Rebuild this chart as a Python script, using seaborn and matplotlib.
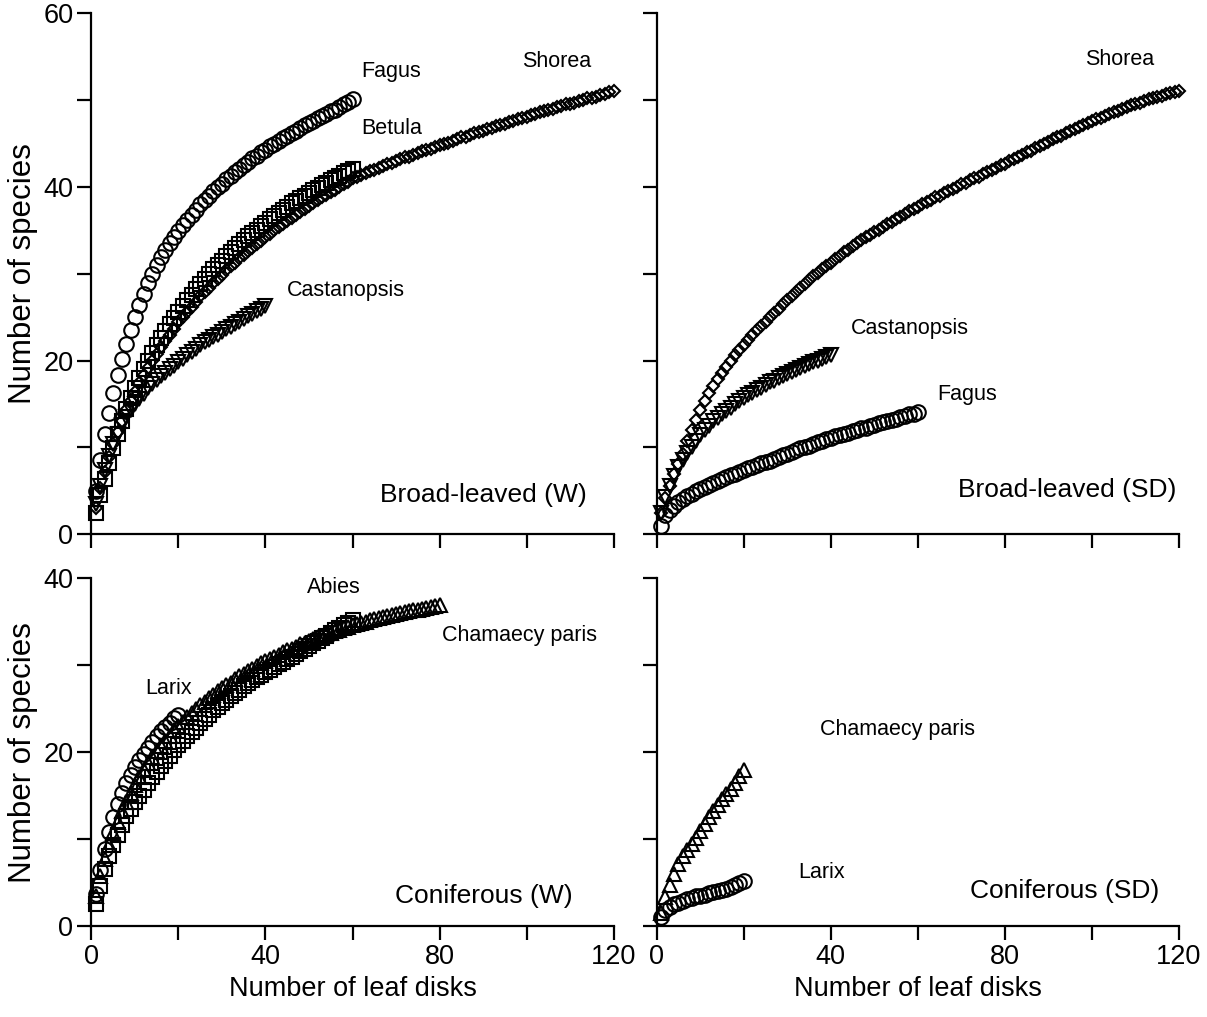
import matplotlib
matplotlib.use("Agg")
import matplotlib.pyplot as plt
import seaborn as sns
import numpy as np
import pandas as pd
from matplotlib.ticker import MultipleLocator

sns.set_theme(style="white")
plt.rcParams['font.family'] = ['Liberation Sans', 'DejaVu Sans']
plt.rcParams['text.color'] = 'black'
plt.rcParams['axes.labelcolor'] = 'black'
plt.rcParams['xtick.color'] = 'black'
plt.rcParams['ytick.color'] = 'black'

# ---------------- data (species accumulation, y value for disk 1..N) -------------
fagus_w = [5.0, 8.6, 11.5, 14.0, 16.3, 18.4, 20.2, 21.9, 23.5, 25.0,
           26.4, 27.7, 28.9, 30.0, 31.0, 31.9, 32.7, 33.5, 34.2, 34.9,
           35.6, 36.2, 36.8, 37.4, 38.0, 38.5, 39.0, 39.5, 40.0, 40.4,
           40.9, 41.3, 41.7, 42.1, 42.5, 42.9, 43.3, 43.6, 44.0, 44.3,
           44.7, 45.0, 45.3, 45.6, 45.9, 46.2, 46.5, 46.8, 47.1, 47.4,
           47.6, 47.9, 48.2, 48.4, 48.7, 48.9, 49.2, 49.5, 49.8, 50.1]
betula_w = [2.5, 4.5, 6.4, 8.2, 9.9, 11.5, 13.0, 14.4, 15.7, 16.9,
            18.0, 19.0, 20.0, 20.9, 21.8, 22.6, 23.4, 24.2, 24.9, 25.6,
            26.3, 27.0, 27.6, 28.2, 28.8, 29.4, 30.0, 30.5, 31.0, 31.5,
            32.0, 32.5, 33.0, 33.4, 33.9, 34.3, 34.7, 35.1, 35.5, 35.9,
            36.3, 36.7, 37.0, 37.4, 37.7, 38.1, 38.4, 38.7, 39.0, 39.3,
            39.6, 39.9, 40.2, 40.5, 40.8, 41.0, 41.3, 41.6, 41.8, 42.1]
shorea_w = [3.0, 5.3, 7.2, 8.9, 10.4, 11.8, 13.1, 14.3, 15.4, 16.4,
            17.4, 18.3, 19.2, 20.0, 20.8, 21.6, 22.3, 23.0, 23.7, 24.4,
            25.0, 25.6, 26.2, 26.8, 27.4, 27.9, 28.4, 28.9, 29.4, 29.9,
            30.4, 30.9, 31.3, 31.8, 32.2, 32.6, 33.0, 33.4, 33.8, 34.2,
            34.6, 35.0, 35.4, 35.7, 36.1, 36.4, 36.8, 37.1, 37.5, 37.8,
            38.1, 38.5, 38.8, 39.1, 39.4, 39.7, 40.0, 40.3, 40.6, 41.0,
            41.2, 41.4, 41.6, 41.8, 42.0, 42.2, 42.4, 42.6, 42.8, 43.0,
            43.2, 43.4, 43.5, 43.7, 43.9, 44.1, 44.3, 44.4, 44.6, 44.8,
            45.0, 45.1, 45.3, 45.5, 45.7, 45.8, 46.0, 46.2, 46.3, 46.5,
            46.7, 46.8, 47.0, 47.1, 47.3, 47.5, 47.6, 47.8, 47.9, 48.1,
            48.3, 48.4, 48.6, 48.7, 48.9, 49.0, 49.2, 49.3, 49.5, 49.6,
            49.7, 49.9, 50.0, 50.2, 50.3, 50.4, 50.6, 50.7, 50.9, 51.0]
castanopsis_w = [3.5, 5.6, 7.4, 9.0, 10.4, 11.6, 12.6, 13.5, 14.3, 15.0,
                 15.6, 16.2, 16.8, 17.3, 17.8, 18.2, 18.6, 19.0, 19.4, 19.8,
                 20.2, 20.6, 21.0, 21.4, 21.8, 22.1, 22.4, 22.7, 23.0, 23.3,
                 23.6, 23.9, 24.2, 24.5, 24.8, 25.1, 25.4, 25.7, 26.0, 26.3]

shorea_sd = [2.5, 4.2, 5.6, 6.9, 8.1, 9.3, 10.7, 12.0, 13.2, 14.3,
             15.4, 16.3, 17.1, 17.9, 18.6, 19.3, 20.0, 20.6, 21.2, 21.8,
             22.4, 23.0, 23.5, 24.0, 24.5, 25.0, 25.5, 26.0, 26.5, 27.0,
             27.5, 27.9, 28.4, 28.8, 29.3, 29.7, 30.1, 30.5, 30.9, 31.3,
             31.7, 32.1, 32.5, 32.8, 33.2, 33.5, 33.9, 34.2, 34.5, 34.8,
             35.1, 35.4, 35.7, 36.0, 36.3, 36.6, 36.9, 37.2, 37.5, 37.7,
             38.0, 38.3, 38.5, 38.8, 39.0, 39.3, 39.5, 39.8, 40.0, 40.3,
             40.5, 40.8, 41.0, 41.2, 41.5, 41.7, 42.0, 42.2, 42.5, 42.7,
             43.0, 43.2, 43.5, 43.7, 44.0, 44.2, 44.5, 44.7, 45.0, 45.2,
             45.5, 45.7, 45.9, 46.2, 46.4, 46.7, 46.9, 47.1, 47.4, 47.6,
             47.8, 48.0, 48.2, 48.4, 48.6, 48.8, 49.0, 49.2, 49.4, 49.6,
             49.7, 49.9, 50.1, 50.2, 50.4, 50.5, 50.7, 50.8, 50.9, 51.1]
castanopsis_sd = [2.5, 4.3, 5.6, 6.7, 7.7, 8.6, 9.4, 10.1, 10.8, 11.4,
                  12.0, 12.5, 13.0, 13.4, 13.8, 14.2, 14.6, 15.0, 15.3, 15.7,
                  16.0, 16.3, 16.6, 16.9, 17.2, 17.5, 17.7, 18.0, 18.2, 18.5,
                  18.7, 18.9, 19.1, 19.4, 19.6, 19.8, 20.0, 20.2, 20.4, 20.6]
fagus_sd = [1.0, 2.2, 2.8, 3.3, 3.7, 4.1, 4.4, 4.7, 5.0, 5.2,
            5.5, 5.7, 5.9, 6.1, 6.4, 6.6, 6.8, 7.0, 7.2, 7.4,
            7.6, 7.8, 8.0, 8.2, 8.3, 8.5, 8.7, 8.9, 9.1, 9.3,
            9.5, 9.7, 9.9, 10.0, 10.2, 10.4, 10.6, 10.8, 11.0, 11.1,
            11.3, 11.4, 11.6, 11.7, 11.9, 12.0, 12.2, 12.3, 12.5, 12.6,
            12.8, 12.9, 13.0, 13.2, 13.3, 13.5, 13.6, 13.8, 13.9, 14.1]

larix_w = [3.7, 6.4, 8.8, 10.8, 12.5, 14.0, 15.3, 16.4, 17.4, 18.3,
           19.1, 19.8, 20.5, 21.2, 21.8, 22.4, 22.9, 23.4, 23.9, 24.3]
abies_w = [2.5, 4.6, 6.6, 8.1, 9.3, 10.5, 11.6, 12.6, 13.5, 14.3,
           15.0, 15.7, 16.4, 17.1, 17.7, 18.4, 19.0, 19.6, 20.2, 20.8,
           21.3, 21.8, 22.3, 22.8, 23.3, 23.8, 24.3, 24.8, 25.2, 25.6,
           26.0, 26.4, 26.8, 27.2, 27.6, 28.0, 28.3, 28.6, 28.9, 29.2,
           29.5, 29.8, 30.1, 30.4, 30.7, 31.0, 31.3, 31.6, 31.9, 32.2,
           32.5, 32.8, 33.1, 33.4, 33.7, 34.0, 34.3, 34.6, 34.9, 35.2]
chamaecyparis_w = [3.5, 5.8, 7.7, 9.3, 10.7, 12.0, 13.2, 14.3, 15.3, 16.2,
                   17.1, 17.9, 18.7, 19.4, 20.1, 20.7, 21.3, 21.9, 22.5, 23.0,
                   23.5, 24.0, 24.5, 25.0, 25.4, 25.8, 26.2, 26.6, 27.0, 27.4,
                   27.7, 28.0, 28.4, 28.7, 29.0, 29.3, 29.6, 29.9, 30.2, 30.5,
                   30.7, 31.0, 31.2, 31.5, 31.7, 31.9, 32.1, 32.4, 32.6, 32.8,
                   33.0, 33.2, 33.4, 33.6, 33.7, 33.9, 34.1, 34.3, 34.4, 34.6,
                   34.7, 34.9, 35.0, 35.2, 35.3, 35.4, 35.6, 35.7, 35.8, 35.9,
                   36.0, 36.1, 36.2, 36.3, 36.4, 36.5, 36.6, 36.7, 36.8, 36.9]
chamaecyparis_sd = [1.5, 3.3, 4.7, 6.0, 7.1, 8.0, 8.7, 9.4, 10.1, 10.9,
                    11.7, 12.5, 13.2, 13.9, 14.6, 15.2, 15.8, 16.5, 17.3, 18.0]
larix_sd = [1.0, 1.8, 2.2, 2.5, 2.7, 2.9, 3.1, 3.2, 3.4, 3.5,
            3.6, 3.8, 3.9, 4.0, 4.1, 4.3, 4.5, 4.7, 4.9, 5.2]

panel_titles = ["Broad-leaved (W)", "Broad-leaved (SD)", "Coniferous (W)", "Coniferous (SD)"]
x_ticks = [0, 40, 80, 120]
y_ticks_top = [0, 20, 40, 60]
y_ticks_bottom = [0, 20, 40]
x_label = "Number of leaf disks"
y_label = "Number of species"

# ---------------- figure ----------------
fig = plt.figure(figsize=(12.07, 10.17), dpi=100)
ax_tl = fig.add_axes([0.0758, 0.4746, 0.4325, 0.5123])
ax_tr = fig.add_axes([0.5441, 0.4746, 0.4327, 0.5123])
ax_bl = fig.add_axes([0.0758, 0.0895, 0.4325, 0.3419])
ax_br = fig.add_axes([0.5441, 0.0895, 0.4327, 0.3419])

MARK = {
    'o': dict(marker='o', markersize=10.5),
    's': dict(marker='s', markersize=9.5),
    'D': dict(marker='D', markersize=6.6),
    'v': dict(marker='v', markersize=9.5),
    '^': dict(marker='^', markersize=9.5),
}


def draw(ax, ys, m):
    xs = np.arange(1, len(ys) + 1)
    df = pd.DataFrame({"x": xs, "y": ys})
    sns.lineplot(data=df, x="x", y="y", ax=ax, linestyle='', color='black',
                 markerfacecolor='none', markeredgecolor='black',
                 markeredgewidth=1.5, clip_on=False, **MARK[m])


draw(ax_tl, shorea_w, 'D')
draw(ax_tl, betula_w, 's')
draw(ax_tl, castanopsis_w, 'v')
draw(ax_tl, fagus_w, 'o')

draw(ax_tr, shorea_sd, 'D')
draw(ax_tr, castanopsis_sd, 'v')
draw(ax_tr, fagus_sd, 'o')

draw(ax_bl, chamaecyparis_w, '^')
draw(ax_bl, abies_w, 's')
draw(ax_bl, larix_w, 'o')

draw(ax_br, chamaecyparis_sd, '^')
draw(ax_br, larix_sd, 'o')

for ax, ymax, yt in [(ax_tl, 60, y_ticks_top), (ax_tr, 60, y_ticks_top),
                     (ax_bl, 40, y_ticks_bottom), (ax_br, 40, y_ticks_bottom)]:
    ax.set_xlim(0, 120)
    ax.set_ylim(0, ymax)
    ax.set_xticks(x_ticks)
    ax.set_yticks(yt)
    ax.xaxis.set_minor_locator(MultipleLocator(20))
    ax.yaxis.set_minor_locator(MultipleLocator(10))
    for s in ['top', 'right']:
        ax.spines[s].set_visible(False)
    for s in ['left', 'bottom']:
        ax.spines[s].set_linewidth(1.6)
        ax.spines[s].set_color('black')
    ax.tick_params(which='both', direction='out', length=10, width=1.6,
                   color='black', labelcolor='black', labelsize=19.5, pad=3,
                   bottom=True, left=True)
    ax.set_xlabel("")
    ax.set_ylabel("")
    ax.patch.set_alpha(0)

for ax in (ax_tl, ax_tr):
    ax.tick_params(labelbottom=False)
for ax in (ax_tr, ax_br):
    ax.tick_params(labelleft=False)

for ax in (ax_bl, ax_br):
    ax.set_xlabel(x_label, fontsize=19.5, labelpad=4, color='black')
for ax in (ax_tl, ax_bl):
    ax.set_ylabel(y_label, fontsize=22.5, labelpad=4, color='black')

fs_sp = 15.5
fs_pan = 19
# species labels
ax_tl.text(62, 53.3, "Fagus", fontsize=fs_sp, va='center', ha='left')
ax_tl.text(62, 46.7, "Betula", fontsize=fs_sp, va='center', ha='left')
ax_tl.text(99, 54.5, "Shorea", fontsize=fs_sp, va='center', ha='left')
ax_tl.text(45, 28.1, "Castanopsis", fontsize=fs_sp, va='center', ha='left')
ax_tl.text(113.8, 4.5, panel_titles[0], fontsize=fs_pan, va='center', ha='right')

ax_tr.text(98.5, 54.7, "Shorea", fontsize=fs_sp, va='center', ha='left')
ax_tr.text(44.5, 23.7, "Castanopsis", fontsize=fs_sp, va='center', ha='left')
ax_tr.text(64.5, 16.1, "Fagus", fontsize=fs_sp, va='center', ha='left')
ax_tr.text(119.5, 5.1, panel_titles[1], fontsize=fs_pan, va='center', ha='right')

ax_bl.text(49.5, 38.9, "Abies", fontsize=fs_sp, va='center', ha='left')
ax_bl.text(80.5, 33.4, "Chamaecy paris", fontsize=fs_sp, va='center', ha='left')
ax_bl.text(12.3, 27.3, "Larix", fontsize=fs_sp, va='center', ha='left')
ax_bl.text(110.5, 3.45, panel_titles[2], fontsize=fs_pan, va='center', ha='right')

ax_br.text(37.5, 22.6, "Chamaecy paris", fontsize=fs_sp, va='center', ha='left')
ax_br.text(32.5, 6.2, "Larix", fontsize=fs_sp, va='center', ha='left')
ax_br.text(115.5, 4.0, panel_titles[3], fontsize=fs_pan, va='center', ha='right')

fig.savefig("out.png", dpi=100, facecolor='white')
